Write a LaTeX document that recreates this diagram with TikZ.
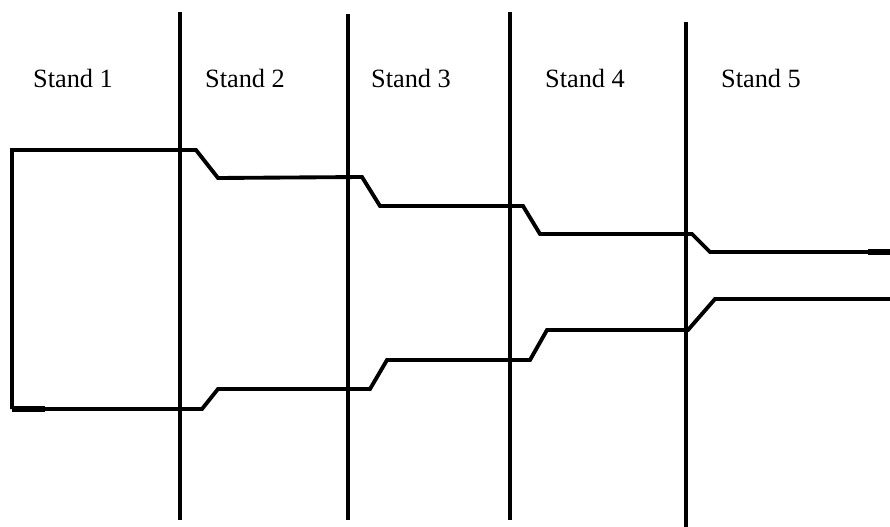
\documentclass[tikz,border=0pt]{standalone}
\usepackage{fontspec}
\setmainfont{Liberation Serif}
\usetikzlibrary{positioning}

\begin{document}
\begin{tikzpicture}[x=0.02cm, y=-0.02cm, line width=2.2pt, line join=miter,
  standlabel/.style={font=\fontsize{15}{17}\selectfont, anchor=base, inner sep=0pt}]
  \useasboundingbox (0,0) rectangle (890,527);

  % Stand boundaries
  \draw (180,12) -- (180,520);
  \draw (348,14) -- (348,520);
  \draw (510,12) -- (510,520);
  \draw (686,22) -- (686,527);

  % Upper contour of the strip
  \draw (12,409) -- (12,150) -- (196,150) -- (218,178) -- (362,177)
    -- (380,206) -- (523,206) -- (540,234) -- (692,234) -- (710,252) -- (890,252);

  % Lower contour of the strip
  \draw (12,409) -- (202,409) -- (218,389) -- (370,389) -- (387,360)
    -- (530,360) -- (547,330) -- (688,330) -- (715,299) -- (890,299);

  % Thick ends
  \draw[line width=3.6pt] (12,409) -- (45,409);
  \draw[line width=3.6pt] (868,252) -- (890,252);

  % Stand labels
  \node[standlabel] (stand1) at (73,88) {Stand 1};
  \node[standlabel] (stand2) at (245,88) {Stand 2};
  \node[standlabel] (stand3) at (411,88) {Stand 3};
  \node[standlabel] (stand4) at (585,88) {Stand 4};
  \node[standlabel] (stand5) at (761,88) {Stand 5};
\end{tikzpicture}
\end{document}
